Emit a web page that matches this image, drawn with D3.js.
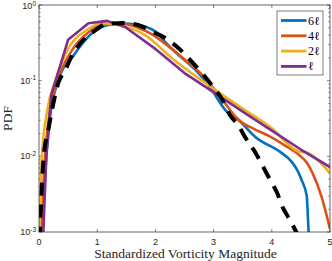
<!DOCTYPE html>
<html>
  <head>
    <meta charset="utf-8" />
    <script src="https://d3js.org/d3.v7.min.js"></script>
    <style>
      body { margin: 0; background: #fff; }
    </style>
  </head>
  <body>
    <div id="my_dataviz"></div>
    <script>
      // values (x = standardized vorticity, y = pdf)
      var gaussX = [0.01, 0.08, 0.16, 0.34, 0.45, 0.59, 0.73, 0.93, 1.16, 1.45, 1.7, 1.96, 2.17, 2.43, 2.6, 2.8, 2.94, 3.15, 3.28, 3.42, 3.54, 3.71, 3.83, 3.97, 4.09, 4.19, 4.31, 4.42, 4.5];
      var gaussY = [0.00079, 0.01, 0.0224, 0.097, 0.138, 0.232, 0.324, 0.44, 0.561, 0.578, 0.545, 0.44, 0.366, 0.255, 0.187, 0.126, 0.093, 0.0556, 0.0352, 0.026, 0.018, 0.0115, 0.0078, 0.0049, 0.0033, 0.0021, 0.00145, 0.001, 0.00076];

      var l6X = [0.05, 0.1, 0.18, 0.33, 0.6, 0.9, 1.15, 1.4, 1.6, 1.82, 2.0, 2.17, 2.34, 2.74, 2.97, 3.1, 3.23, 3.34, 3.74, 4.14, 4.34, 4.45, 4.51, 4.6, 4.63, 4.65];
      var l6Y = [0.00079, 0.005, 0.0282, 0.1, 0.219, 0.417, 0.537, 0.575, 0.562, 0.519, 0.447, 0.324, 0.24, 0.126, 0.076, 0.0525, 0.0389, 0.0347, 0.0174, 0.0115, 0.0085, 0.0063, 0.0049, 0.003, 0.0011, 0.00063];

      var l4X = [0.04, 0.08, 0.16, 0.3, 0.55, 0.85, 1.1, 1.4, 1.7, 1.95, 2.2, 2.5, 2.8, 3.0, 3.2, 3.4, 3.7, 3.95, 4.25, 4.45, 4.6, 4.7, 4.85, 5.0];
      var l4Y = [0.00079, 0.005, 0.0282, 0.089, 0.24, 0.437, 0.55, 0.569, 0.501, 0.407, 0.295, 0.19, 0.12, 0.079, 0.05, 0.0316, 0.0229, 0.0186, 0.0135, 0.0107, 0.0083, 0.006, 0.003, 0.0011];

      var l2X = [0.0, 0.05, 0.14, 0.28, 0.5, 0.8, 1.1, 1.4, 1.83, 2.28, 2.86, 3.5, 4.0, 4.45, 4.6, 5.0];
      var l2Y = [0.00063, 0.01, 0.0398, 0.1, 0.263, 0.457, 0.575, 0.537, 0.398, 0.2, 0.093, 0.0427, 0.0234, 0.0117, 0.0112, 0.006];

      var l1X = [0.06, 0.125, 0.21, 0.5, 0.85, 1.17, 1.48, 2.0, 2.5, 2.9, 3.5, 4.0, 4.5, 5.0];
      var l1Y = [0.0005, 0.01, 0.0646, 0.347, 0.575, 0.617, 0.513, 0.263, 0.126, 0.079, 0.0389, 0.0219, 0.0123, 0.0072];

      var seriesNames = ["6\u2113", "4\u2113", "2\u2113", "\u2113"];
      var seriesColors = ["#0072BD", "#D95319", "#EDB120", "#7E2F8E"];
      var xTicks = [0, 1, 2, 3, 4, 5];
      var yTickExp = [0, -1, -2, -3];

      // layout
      var margin = { top: 5, right: 2, bottom: 29, left: 39 },
        width = 332 - margin.left - margin.right,
        height = 261 - margin.top - margin.bottom;

      var svg = d3
        .select("#my_dataviz")
        .append("svg")
        .attr("width", 332)
        .attr("height", 261)
        .append("g")
        .attr("transform", "translate(" + margin.left + "," + margin.top + ")");

      var x = d3.scaleLinear().domain([0, 5]).range([0, width]);
      var y = d3.scaleLog().domain([1e-3, 1]).range([height, 0]);

      var axisColor = "#262626";

      svg.append("clipPath").attr("id", "clip")
        .append("rect").attr("width", width).attr("height", height);

      // minor ticks for the log axis
      var minor = [];
      yTickExp.slice(1).forEach(function (e) {
        for (var k = 2; k <= 9; k++) minor.push(k * Math.pow(10, e));
      });

      // ticks (inward, both sides)
      var tickG = svg.append("g").attr("stroke", axisColor).attr("stroke-width", 0.6);
      xTicks.forEach(function (t) {
        tickG.append("line").attr("x1", x(t)).attr("x2", x(t)).attr("y1", height).attr("y2", height - 3);
        tickG.append("line").attr("x1", x(t)).attr("x2", x(t)).attr("y1", 0).attr("y2", 3);
      });
      yTickExp.forEach(function (e) {
        var v = Math.pow(10, e);
        tickG.append("line").attr("x1", 0).attr("x2", 3).attr("y1", y(v)).attr("y2", y(v));
        tickG.append("line").attr("x1", width).attr("x2", width - 3).attr("y1", y(v)).attr("y2", y(v));
      });
      minor.forEach(function (v) {
        tickG.append("line").attr("x1", 0).attr("x2", 1.6).attr("y1", y(v)).attr("y2", y(v));
        tickG.append("line").attr("x1", width).attr("x2", width - 1.6).attr("y1", y(v)).attr("y2", y(v));
      });

      // tick labels
      svg.append("g").selectAll("text").data(xTicks).enter().append("text")
        .attr("x", function (d) { return x(d); })
        .attr("y", height + 13)
        .attr("text-anchor", "middle")
        .style("font-family", "Liberation Sans, Arial, sans-serif")
        .style("font-size", "9px")
        .style("fill", axisColor)
        .text(function (d) { return d; });

      var yl = svg.append("g").selectAll("text").data(yTickExp).enter().append("text")
        .attr("x", -3)
        .attr("y", function (d) { return y(Math.pow(10, d)) + (d === 0 ? 4 : 3); })
        .attr("text-anchor", "end")
        .style("font-family", "Liberation Sans, Arial, sans-serif")
        .style("font-size", "9px")
        .style("fill", axisColor);
      yl.append("tspan").text("10");
      yl.append("tspan").attr("dy", -3.5).style("font-size", "6.5px").text(function (d) { return d; });

      // curves
      var smooth = d3.line()
        .x(function (d) { return x(d[0]); })
        .y(function (d) { return y(d[1]); })
        .curve(d3.curveMonotoneX);
      var straight = d3.line()
        .x(function (d) { return x(d[0]); })
        .y(function (d) { return y(d[1]); });

      var plot = svg.append("g").attr("clip-path", "url(#clip)");
      var colored = [[l6X, l6Y], [l4X, l4Y], [l2X, l2Y], [l1X, l1Y]];
      colored.forEach(function (s, i) {
        plot.append("path")
          .datum(d3.zip(s[0], s[1]))
          .attr("d", i === 3 ? straight : smooth)
          .attr("fill", "none")
          .attr("stroke", seriesColors[i])
          .attr("stroke-width", 2.6)
          .attr("stroke-linejoin", "round");
      });
      plot.append("path")
        .datum(d3.zip(gaussX, gaussY))
        .attr("d", smooth)
        .attr("fill", "none")
        .attr("stroke", "#000")
        .attr("stroke-width", 4)
        .attr("stroke-dasharray", "13,9");

      // box
      svg.append("rect")
        .attr("width", width).attr("height", height)
        .attr("fill", "none").attr("stroke", axisColor).attr("stroke-width", 0.7);

      // axis titles
      svg.append("text")
        .attr("x", width / 2 + 1)
        .attr("y", height + 26)
        .attr("text-anchor", "middle")
        .style("font-family", "Liberation Serif, DejaVu Serif, serif")
        .style("font-size", "13.5px")
        .style("fill", axisColor)
        .text("Standardized Vorticity Magnitude");

      svg.append("text")
        .attr("transform", "translate(-27," + height / 2 + ") rotate(-90)")
        .attr("text-anchor", "middle")
        .style("font-family", "Liberation Serif, DejaVu Serif, serif")
        .style("font-size", "13.5px")
        .style("fill", axisColor)
        .text("PDF");

      // legend
      var lg = svg.append("g").attr("transform", "translate(" + (277 - margin.left) + "," + (11 - margin.top) + ")");
      lg.append("rect").attr("width", 46).attr("height", 64)
        .attr("fill", "#fff").attr("stroke", axisColor).attr("stroke-width", 0.6);
      seriesNames.forEach(function (n, i) {
        var yy = 9.5 + i * 15.3;
        lg.append("line").attr("x1", 4).attr("x2", 29.5).attr("y1", yy).attr("y2", yy)
          .attr("stroke", seriesColors[i]).attr("stroke-width", 2.8);
        lg.append("text").attr("x", 31).attr("y", yy + 4)
          .style("font-family", "Liberation Serif, DejaVu Serif, serif")
          .style("font-size", "12px")
          .style("fill", "#000")
          .text(n);
      });
    </script>
  </body>
</html>
